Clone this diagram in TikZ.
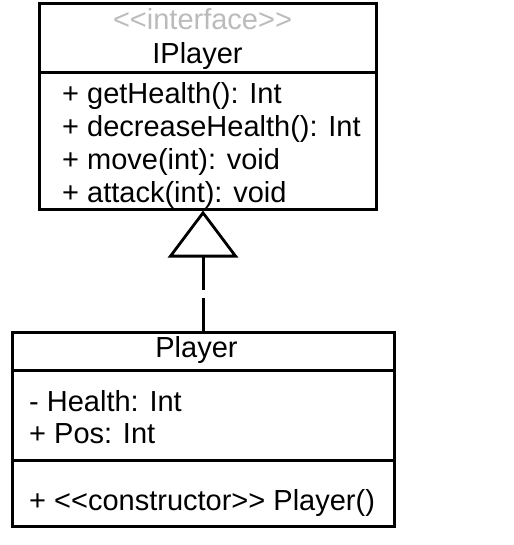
\documentclass[tikz,border=0pt]{standalone}
\usepackage{fontspec}
\setmainfont{Liberation Sans}[Ligatures=TeXOff]
\usetikzlibrary{arrows.meta,positioning}
\definecolor{stereogray}{HTML}{BBBBBB}

\begin{document}
\begin{tikzpicture}[x=1pt, y=-1pt,
  every node/.style={font=\fontsize{29}{33}\selectfont, inner sep=0pt},
  member/.style={anchor=base west},
  title/.style={anchor=base}]
  \useasboundingbox (0,0) rectangle (513,545);
  % interface IPlayer
  \node[draw, line width=3pt, minimum width=337pt, minimum height=205pt] (iface) at (208,106.5) {};
  \coordinate (isep) at (0,73);
  \draw[line width=3pt] (iface.west |- isep) -- (iface.east |- isep);
  \node[title, text=stereogray] (istereo) at (202.5,30) {<<interface>>};
  \node[title] (iname) at (197.5,64) {IPlayer};
  \node[member] (m1) at (62,104) {+ getHealth(): Int};
  \node[member] (m2) at (62,137) {+ decreaseHealth(): Int};
  \node[member] (m3) at (62,170) {+ move(int): void};
  \node[member] (m4) at (62,203) {+ attack(int): void};
  % class Player
  \node[draw, line width=3pt, minimum width=382pt, minimum height=194pt] (player) at (203,429) {};
  \coordinate (psep1) at (0,370);
  \coordinate (psep2) at (0,460);
  \draw[line width=3pt] (player.west |- psep1) -- (player.east |- psep1);
  \draw[line width=3pt] (player.west |- psep2) -- (player.east |- psep2);
  \node[title] (pname) at (196.5,357) {Player};
  \node[member] (a1) at (29,411) {- Health: Int};
  \node[member] (a2) at (29,443) {+ Pos: Int};
  \node[member] (c1) at (29,510) {+ <<constructor>> Player()};
  % realization
  \draw[line width=3pt, dash pattern=on 33pt off 8pt,
    -{Triangle[open, length=47pt, width=70pt, line width=2.8pt]}]
    (player.north) -- (player.north |- iface.south);
\end{tikzpicture}
\end{document}
